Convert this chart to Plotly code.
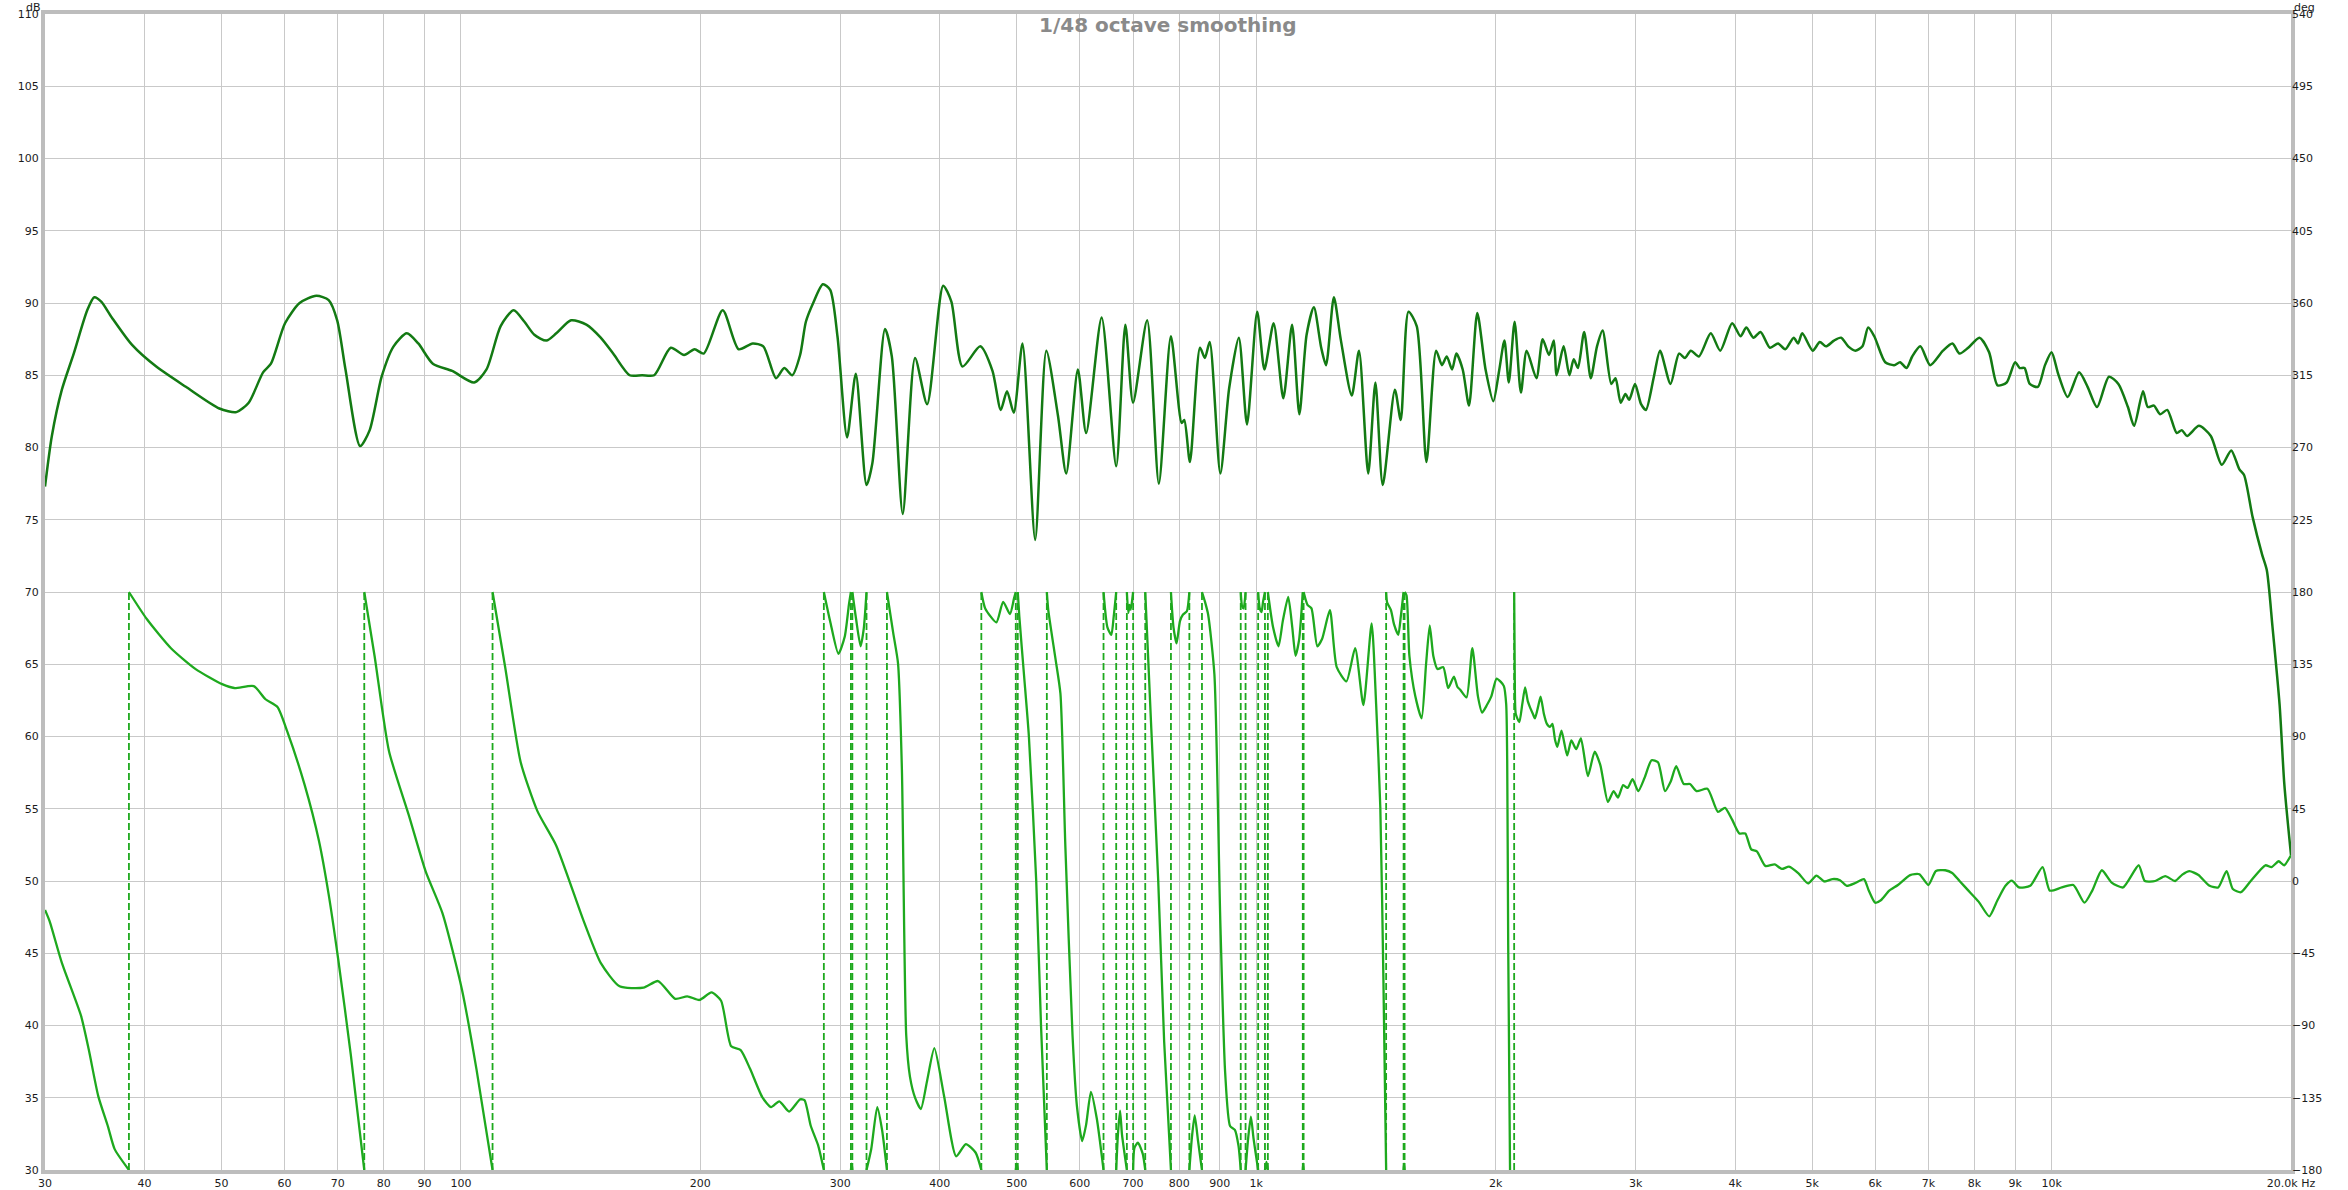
import plotly.graph_objects as go

# --- magnitude (dB) ---
mag_freq = [30, 30.6, 31.5, 32.6, 33.9, 34.6, 35.3, 36.4, 38.6, 41.4, 45.1, 49.7, 52.2, 54.1, 56.4,
            57.7, 60.1, 62.7, 65.8, 68.2, 69.9, 71.6, 74.7, 76.8, 79.5, 82.3, 85.5, 88.4, 92.2, 97.5,
            103.9, 107.7, 112.2, 116.5, 120.2, 123.7, 128.1, 131.8, 137.6, 143.8, 149.9, 155.4, 163,
            169, 175, 183.6, 190.8, 196.7, 202, 213.4, 223.5, 232.7, 240, 249, 255, 261, 267, 271.5,
            277.3, 285.2, 291.3, 297.5, 305.9, 313.7, 323.6, 329.1, 341.4, 348.2, 359.4, 372.4, 385.7,
            404, 413.7, 427.3, 449.8, 466, 477.3, 486, 495.6, 508.3, 527.3, 544.6, 563.3, 576.9, 596.7,
            611.1, 639.2, 666.7, 684.6, 700, 729.2, 754.3, 781.1, 805.7, 812, 825.3, 849.8, 861.8, 874,
            901.3, 924.6, 950.8, 973.6, 1002.8, 1024, 1051.7, 1081.6, 1109.3, 1133, 1157, 1181.6, 1207,
            1224, 1252, 1277, 1318.6, 1346.5, 1382.9, 1412, 1442.3, 1494, 1519.5, 1553.9, 1591.4,
            1636.8, 1683.5, 1712, 1736, 1763, 1785, 1818, 1851.6, 1896.4, 1942.4, 1986.7, 2020, 2051.5,
            2077.6, 2112.9, 2151.6, 2188, 2250.4, 2291.7, 2333.8, 2366.8, 2386, 2435, 2476, 2507, 2538,
            2584, 2634, 2682, 2726, 2795, 2830, 2872, 2912, 2944, 2994, 3047, 3090, 3162, 3219, 3318,
            3401, 3460, 3519, 3602, 3728, 3832, 3966, 4064, 4132, 4218, 4306, 4426, 4530, 4625, 4740,
            4800, 4859, 5008, 5112, 5204, 5326, 5437, 5550, 5666, 5784, 5880, 5985, 6178, 6340, 6450,
            6571, 6680, 6839, 7037, 7302, 7505, 7661, 7855, 8115, 8344, 8553, 8780, 8999, 9120, 9247,
            9388, 9610, 9811, 10000, 10193, 10478, 10829, 11099, 11407, 11807, 12134, 12473, 12697,
            13032, 13213, 13450, 13693, 13977, 14365, 14580, 14804, 15322, 15857, 16367, 16823, 17219,
            17458, 17894, 18392, 18648, 18956, 19350, 19617, 20000]
mag_db = [77.3, 80.8, 84.0, 86.5, 89.5, 90.4, 90.1, 89.0, 87.1, 85.6, 84.2, 82.7, 82.45, 83.1, 85.2,
          85.8, 88.6, 90.0, 90.5, 90.2, 88.8, 85.4, 80.1, 81.2, 84.9, 87.0, 87.9, 87.2, 85.8, 85.3,
          84.5, 85.4, 88.4, 89.5, 88.7, 87.8, 87.4, 87.9, 88.8, 88.5, 87.6, 86.5, 85.0,
          85.0, 85.0, 86.9, 86.4, 86.8, 86.5, 89.5, 86.8, 87.2, 87.0, 84.8, 85.5, 85.0, 86.4, 88.7,
          90.0, 91.3, 90.9, 87.7, 80.7, 85.1, 77.4, 78.9, 88.2, 86.3, 75.4, 86.2, 83.0,
          91.2, 90.1, 85.6, 87.0, 85.3, 82.6, 83.9, 82.4, 87.2, 73.6, 86.7, 82.2, 78.2, 85.4,
          81.0, 89.0, 78.7, 88.5, 83.1, 88.8, 77.5, 87.7, 81.7, 81.9, 79.0, 86.9, 86.2, 87.3,
          78.2, 84.1, 87.6, 81.6, 89.4, 85.4, 88.6, 83.4, 88.5, 82.3, 87.8, 89.7, 86.9,
          85.7, 90.4, 87.5, 83.6, 86.7, 78.2, 84.5, 77.4, 84.0, 81.9, 89.4, 88.4,
          79.0, 86.7, 85.7, 86.3, 85.4, 86.5, 85.4, 82.9, 89.3, 85.4, 83.2, 85.3, 87.4,
          84.5, 88.7, 83.8, 86.7, 84.8, 87.5, 86.4, 87.4, 85.0, 87.0, 85.0, 86.1, 85.5,
          88.0, 84.8, 87.0, 88.1, 84.4, 84.8, 83.1, 83.7, 83.3, 84.4, 83.0, 82.6, 84.9, 86.7, 84.4,
          86.5, 86.2, 86.7, 86.3, 87.9, 86.7, 88.6, 87.7, 88.3, 87.6, 88.0, 86.9, 87.2, 86.8, 87.6,
          87.2, 87.9, 86.7, 87.3, 87.0, 87.4, 87.6, 87.0, 86.7, 87.0, 88.3, 87.7, 85.9, 85.7, 85.9,
          85.5, 86.3, 87.0, 85.7, 86.7, 87.2, 86.5, 86.9, 87.6, 86.6, 84.3, 84.5, 85.9, 85.5, 85.5,
          84.4, 84.2, 85.7, 86.6, 85.1, 83.5, 85.2, 84.2, 82.8, 84.9, 84.4, 82.8, 81.5,
          83.9, 82.8, 82.9, 82.3, 82.6, 81.0, 81.2, 80.8, 81.5, 80.8, 78.8, 79.8, 78.5,
          78.1, 75.2, 72.6, 71.5, 67.6, 62.2, 56.7, 51.8]

# --- phase (deg), wrapped to +/-180, segments split by None ---
phase_freq = [30, 30.4, 31.5, 33.3, 34.05, 35.0, 36.0, 36.7, 38.25, None,
              38.25, 40.3, 43.2, 46.4, 50.1, 51.9, 54.9, 56.8, 58.8, 60.5, 63.6, 66.3, 68.2, 70.1, 72.7, 75.6, None,
              75.6, 77.9, 81.2, 86.0, 90.3, 94.8, 100.3, 104.6, 109.6, None,
              109.6, 113.7, 118.9, 124.8, 131.8, 142.7, 149.9, 158.3, 169.7, 177, 186, 192.6, 199.5, 206.6,
              212.4, 218.7, 224.8, 231, 239.4, 245.5, 251.4, 258.6, 267, 270.4, 275.4, 281.2, 286, None,
              286, 291.3, 298.3, 303.8, 307.5, 309.3, None,
              309.3, 310, 310.6, None,
              310.6, 314, 318.1, 321, 323.6, None,
              323.6, 328.1, 333.8, 338.5, 343.3, None,
              343.3, 349.6, 354.5, 358.5, 363, 367, 372.4, 378.7, 385.7, 393.8, 405, 419.5, 431.4, 443.7, 451.2, None,
              451.2, 456.3, 471.3, 480.6, 490.2, 496, 498.5, None,
              498.5, 500, 501.4, None,
              501.4, 503.6, 510.6, 517.8, 528.9, 536.3, 545.4, None,
              545.4, 547.7, 559.4, 567.3, 575.4, 587.5, 595, 604.2, 611, 619.7, 630.2, 642.7, None,
              642.7, 650, 657.4, 662, 666.7, None,
              666.7, 670, 674.2, 678, 687.6, None,
              687.6, 690.5, 693, 695.3, 700.2, None,
              700.2, 703, 710, 720, 725.2, None,
              725.2, 738, 753, 766, 781.2, None,
              781.2, 787, 794, 802, 809, 818, 824, None,
              824, 830, 836.8, 845, 854.6, None,
              854.6, 862, 870, 886, 901.2, 914, 927, 940, 950, 956.1, None,
              956.1, 960, 964.2, 969.6, None,
              969.6, 977, 984.7, 992, 1005.6, None,
              1005.6, 1010, 1015.5, 1020, 1025.6, None,
              1025.6, 1030, 1034.2, None,
              1034.2, 1050, 1066.7, 1080, 1097, 1110, 1120.4, 1132, 1144.3, None,
              1144.3, 1145.5, 1147, None,
              1147, 1160, 1173.4, 1193.4, 1210.3, 1237.7, 1262.4, 1298.4, 1331.5, 1363.7, 1396.7, 1415,
              1432.2, 1445, 1456.6, None,
              1456.6, 1460.8, 1477, 1490, 1508.6, 1520, 1532.1, None,
              1532.1, 1534, 1536.5, None,
              1536.5, 1545, 1558, 1585, 1614, 1635, 1652.5, 1670, 1690, 1718.6, 1743, 1772.5, 1790, 1805,
              1838.2, 1869.4, 1900, 1923, 1950, 1975, 2005.4, 2030, 2048.2, 2062, 2068, 2074, 2085, None,
              2110, 2114, 2120, 2142, 2160, 2178, 2195, 2208, 2228, 2241, 2260, 2278, 2300, 2319, 2340,
              2357.2, 2375, 2390.6, 2420, 2460, 2490, 2525, 2560, 2612, 2664, 2708, 2768, 2814, 2850, 2893,
              2930, 2973, 3022, 3077, 3141, 3200, 3265, 3320, 3373, 3448, 3510, 3578, 3693, 3806, 3885,
              3966, 4050, 4120, 4191, 4260, 4366, 4487, 4580, 4676, 4806, 4941, 5062, 5182, 5305, 5420,
              5527, 5650, 5808, 5888, 6000, 6100, 6250, 6410, 6640, 6820, 7000, 7155, 7350, 7500, 7661,
              7850, 8100, 8350, 8550, 8750, 8913, 9100, 9400, 9743, 9950, 10300, 10651, 11000, 11250,
              11567, 11900, 12300, 12870, 13100, 13500, 13900, 14300, 14600, 14905, 15300, 15800, 16200,
              16596, 16900, 17300, 17800, 18570, 18900, 19300, 19600, 20000]
phase_deg = [-18, -25, -51, -84, -105, -134, -153, -167, -180, None,
             180, 163, 145, 132, 122.6, 120.2, 121.4, 113.2, 108.4, 93, 60, 25, -8.5, -48.6, -108, -180, None,
             180, 140, 81, 41, 6, -20, -67.5, -117, -180, None,
             180, 133, 74, 43.5, 22, -25, -51, -65.6, -66.4, -62.3, -73.4, -71.8, -74.1, -69.4,
             -74.6, -103, -105.3, -117, -134.8, -140.8, -137.2, -143.6, -136, -136.5, -152.6, -164.4, -180, None,
             180, 161.6, 141.5, 152.1, 172, 180, None,
             -180, -176, -180, None,
             180, 163, 146.2, 157, 180, None,
             -180, -166.8, -140.8, -155, -180, None,
             180, 154.5, 135.6, 69.5, -95.9, -122, -134.9, -142, -124.2, -104.1, -133.7, -171.5, -163.9, -169.1, -180, None,
             180, 169.8, 161.1, 173.9, 166.3, 176, 180, None,
             -180, -176, -180, None,
             180, 165, 128, 90, 0, -90, -180, None,
             180, 168.7, 138, 116.7, 22.2, -95.9, -140, -162, -152, -131.3, -147.8, -180, None,
             180, 158, 153.3, 165, 180, None,
             -180, -158, -143, -158, -180, None,
             180, 167, 172, 169, 180, None,
             -180, -166, -163, -170, -180, None,
             180, 95, 0, -100, -180, None,
             180, 158, 148, 162, 166, 168, 180, None,
             -180, -160, -146, -162, -180, None,
             180, 174, 166, 128.5, -25, -119.5, -152.6, -155, -165, -180, None,
             180, 171, 169.8, 180, None,
             -180, -160, -146.7, -160, -180, None,
             180, 170, 167.5, 174, 180, None,
             -180, -175, -180, None,
             180, 158, 146.2, 162, 177, 158, 140.3, 150, 180, None,
             -180, -176, -180, None,
             180, 172, 169.8, 146.2, 150.9, 168.7, 133.2, 124.3, 145, 109.6, 160.4, 110,
             45.8, -60, -180, None,
             180, 173.4, 168.7, 160, 153.3, 165, 180, None,
             -180, -176, -180, None,
             180, 178, 140.3, 115, 101.3, 135, 159.2, 140, 132, 133.2, 120.2, 127.3, 121, 119.1,
             114.3, 145, 115, 104.9, 109.6, 115, 126.1, 124, 121.4, 110, 75, -40, -180, None,
             180, 125, 104, 99, 110, 120.6, 112, 108.5, 104, 101.3, 108, 114.8, 104, 98, 96,
             97.8, 88, 83.6, 93.7, 78.2, 87.5, 82.1, 88.8, 65.3, 80.6, 72.2, 49.3, 56, 52, 59.7,
             58, 63.4, 56, 64.1, 75.2, 74, 56, 62, 71.5, 60.4, 60.4, 56, 57.4, 43.1, 45.6,
             38.2, 29.6, 29.6, 19.7, 18.5, 9.4, 10.3, 7.5, 8.9, 4.7, -1.5, 3.4, -0.3, 1.2, 0.5,
             -3, -1.5, 1.2, -5.7, -13.5, -12, -6, -2.5, 3.7, 4.2, -2.5, 6.2, 6.7, 5, 0,
             -5.7, -13, -22, -12, -3, 0.2, -4, -3, 8.6, -6, -4, -2.5, -13.5, -6,
             6.7, -1, -4, 9.8, 0, 0, 3, 0, 4, 6.2, 3.7, -3, -4,
             6.2, -5, -7, 0, 9.8, 8.6, 12.3, 9.8, 16]

# frequencies where the phase wraps (dashed connectors)
wrap_freq = [38.25, 75.6, 109.6, 286, 309.3, 310.6, 323.6, 343.3, 451.2, 498.5, 501.4, 545.4,
             642.7, 666.7, 687.6, 700.2, 725.2, 781.2, 824, 854.6, 956.1, 969.6, 1005.6, 1025.6,
             1034.2, 1144.3, 1147, 1456.6, 1532.1, 1536.5, 2110]

x_ticks = [30, 40, 50, 60, 70, 80, 90, 100, 200, 300, 400, 500, 600, 700, 800, 900,
           1000, 2000, 3000, 4000, 5000, 6000, 7000, 8000, 9000, 10000, 20000]
x_labels = ["30", "40", "50", "60", "70", "80", "90", "100", "200", "300", "400", "500", "600",
            "700", "800", "900", "1k", "2k", "3k", "4k", "5k", "6k", "7k", "8k", "9k", "10k", "20.0k Hz"]
db_ticks = list(range(30, 111, 5))
deg_ticks = list(range(-180, 541, 45))

MAG_COLOR = "#137a13"
PHASE_COLOR = "#1ea91e"
GRID = "#c9c9c9"
FONT = "DejaVu Sans"

dash_x, dash_y = [], []
for f in wrap_freq:
    dash_x += [f, f, None]
    dash_y += [-180, 180, None]

fig = go.Figure()

fig.add_trace(go.Scatter(
    x=dash_x, y=dash_y, yaxis="y2", mode="lines",
    line=dict(color=PHASE_COLOR, width=1.8, dash="7px,3px"),
    hoverinfo="skip"
))
fig.add_trace(go.Scatter(
    x=phase_freq, y=phase_deg, yaxis="y2", mode="lines",
    line=dict(color=PHASE_COLOR, width=2.3, shape="spline", smoothing=0.6),
    connectgaps=False, name="Phase"
))
fig.add_trace(go.Scatter(
    x=mag_freq, y=mag_db, mode="lines",
    line=dict(color=MAG_COLOR, width=2.5, shape="spline", smoothing=0.7),
    name="SPL"
))

fig.update_layout(
    width=2348, height=1190,
    margin=dict(l=45, r=57, t=14, b=20),
    paper_bgcolor="white",
    plot_bgcolor="white",
    showlegend=False,
    font=dict(family=FONT, size=11, color="#1c1c1c"),
    xaxis=dict(
        type="log", range=[1.4771, 4.30103],
        tickvals=x_ticks, ticktext=x_labels, ticks="",
        showgrid=True, gridcolor=GRID, gridwidth=1,
        showline=True, linecolor="#bdbdbd", linewidth=4, mirror=True,
        zeroline=False, automargin=False,
    ),
    yaxis=dict(
        range=[30, 110], tickvals=db_ticks, ticks="",
        showgrid=True, gridcolor=GRID, gridwidth=1,
        showline=True, linecolor="#bdbdbd", linewidth=4, mirror=True,
        zeroline=False, automargin=False,
    ),
    yaxis2=dict(
        range=[-180, 540], tickvals=deg_ticks, ticks="",
        overlaying="y", side="right",
        showgrid=False, zeroline=False, showline=False, automargin=False,
    ),
    annotations=[
        dict(text="1/48 octave smoothing", xref="paper", yref="paper", x=0.5, y=1,
             xanchor="center", yanchor="middle", yshift=-11, showarrow=False,
             font=dict(family=FONT, size=20, color="#8a8a8a", weight="bold")),
        dict(text="dB", xref="paper", yref="paper", x=0, y=1, xanchor="right", yanchor="middle",
             xshift=-2, yshift=7, showarrow=False, font=dict(family=FONT, size=11)),
        dict(text="deg", xref="paper", yref="paper", x=1, y=1, xanchor="left", yanchor="middle",
             xshift=1, yshift=7, showarrow=False, font=dict(family=FONT, size=11)),
    ],
)

# page body has an 8px default margin; drop it so the figure sits at the window origin
fig.write_html("out.html", config={"displayModeBar": False},
               post_script="document.body.style.margin='0px';")
